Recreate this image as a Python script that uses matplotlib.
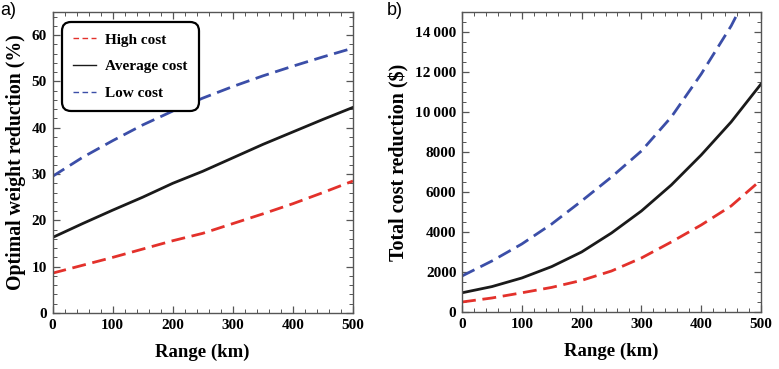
import matplotlib
matplotlib.use("Agg")
import matplotlib.pyplot as plt
from matplotlib.lines import Line2D
from matplotlib.ticker import MultipleLocator, FixedLocator, FixedFormatter

range_km = [0, 50, 100, 150, 200, 250, 300, 350, 400, 450, 500]

# Panel a: optimal weight reduction (%)
weight_high = [8.6, 10.3, 12.0, 13.8, 15.6, 17.2, 19.3, 21.4, 23.6, 26.0, 28.5]
weight_avg = [16.3, 19.3, 22.2, 25.0, 28.0, 30.6, 33.5, 36.4, 39.1, 41.8, 44.4]
weight_low = [29.5, 33.6, 37.2, 40.6, 43.6, 46.4, 48.9, 51.2, 53.3, 55.3, 57.2]

# Panel b: total cost reduction ($)
cost_high = [500, 700, 960, 1230, 1580, 2050, 2700, 3500, 4350, 5300, 6600]
cost_avg = [960, 1270, 1700, 2270, 3000, 3950, 5050, 6350, 7850, 9500, 11400]
cost_low = [1800, 2550, 3400, 4400, 5550, 6750, 8050, 9750, 11900, 14300, 17200]

series_labels = ["High cost", "Average cost", "Low cost"]
cost_ticks = [0, 2000, 4000, 6000, 8000, 10000, 12000, 14000]
cost_ticklabels = ["0", "2000", "4000", "6000", "8000", "10\u2009000", "12\u2009000", "14\u2009000"]

RED = "#e3312b"
BLUE = "#3b4ea8"
BLACK = "#1a1a1a"

plt.rcParams["font.family"] = ["Liberation Serif", "DejaVu Serif"]
plt.rcParams["font.weight"] = "bold"

fig = plt.figure(figsize=(7.79, 3.69), dpi=100)
axa = fig.add_axes([0.0674, 0.1518, 0.3857, 0.8157])
axb = fig.add_axes([0.5931, 0.1545, 0.3838, 0.8130])

dash = (0, (5, 2.4))
lw = 2.0

axa.plot(range_km, weight_high, color=RED, lw=lw, linestyle=dash)
axa.plot(range_km, weight_avg, color=BLACK, lw=lw)
axa.plot(range_km, weight_low, color=BLUE, lw=lw, linestyle=dash)

axb.plot(range_km, cost_high, color=RED, lw=lw, linestyle=dash)
axb.plot(range_km, cost_avg, color=BLACK, lw=lw)
axb.plot(range_km, cost_low, color=BLUE, lw=lw, linestyle=dash)

for ax in (axa, axb):
    ax.set_xlim(0, 500)
    ax.xaxis.set_major_locator(MultipleLocator(100))
    ax.xaxis.set_minor_locator(MultipleLocator(20))
    ax.tick_params(which="both", direction="in", top=True, right=True, labelsize=11, pad=4)
    ax.tick_params(which="major", length=5, width=0.9, color="#555555")
    ax.tick_params(which="minor", length=3, width=0.7, color="#555555")
    for s in ax.spines.values():
        s.set_color("#555555")
        s.set_linewidth(1.0)
    for lab in ax.get_xticklabels() + ax.get_yticklabels():
        lab.set_fontweight("bold")
    ax.set_xlabel("Range (km)", fontsize=13.5, fontweight="bold", labelpad=9)

axa.set_ylim(0, 65)
axa.yaxis.set_major_locator(MultipleLocator(10))
axa.yaxis.set_minor_locator(MultipleLocator(2))
axa.set_ylabel("Optimal weight reduction (%)", fontsize=14.2, fontweight="bold", labelpad=4)

axb.set_ylim(0, 15000)
axb.yaxis.set_major_locator(FixedLocator(cost_ticks))
axb.yaxis.set_major_formatter(FixedFormatter(cost_ticklabels))
axb.yaxis.set_minor_locator(MultipleLocator(500))
axb.set_ylabel("Total cost reduction ($)", fontsize=14.4, fontweight="bold", labelpad=4)
for lab in axb.get_yticklabels():
    lab.set_fontweight("bold")

handles = [
    Line2D([], [], color=RED, lw=1.0, linestyle=(0, (4, 2.5))),
    Line2D([], [], color=BLACK, lw=1.0),
    Line2D([], [], color=BLUE, lw=1.0, linestyle=(0, (4, 2.5))),
]
leg = axa.legend(handles, series_labels, loc="upper left", bbox_to_anchor=(0.03, 0.967),
                 frameon=True, fancybox=True, handlelength=1.55, handletextpad=0.6,
                 labelspacing=0.85, borderpad=0.72, borderaxespad=0,
                 prop={"weight": "bold", "size": 11})
frame = leg.get_frame()
frame.set_edgecolor("black")
frame.set_linewidth(1.6)
frame.set_boxstyle("round", pad=0, rounding_size=0.6)
frame.set_alpha(1)

fig.text(0.0, 0.995, "a)", fontsize=13, fontfamily=["Liberation Sans"], fontweight="normal", va="top", ha="left")
fig.text(0.497, 0.995, "b)", fontsize=13, fontfamily=["Liberation Sans"], fontweight="normal", va="top", ha="left")

fig.savefig("out.png", dpi=100)
